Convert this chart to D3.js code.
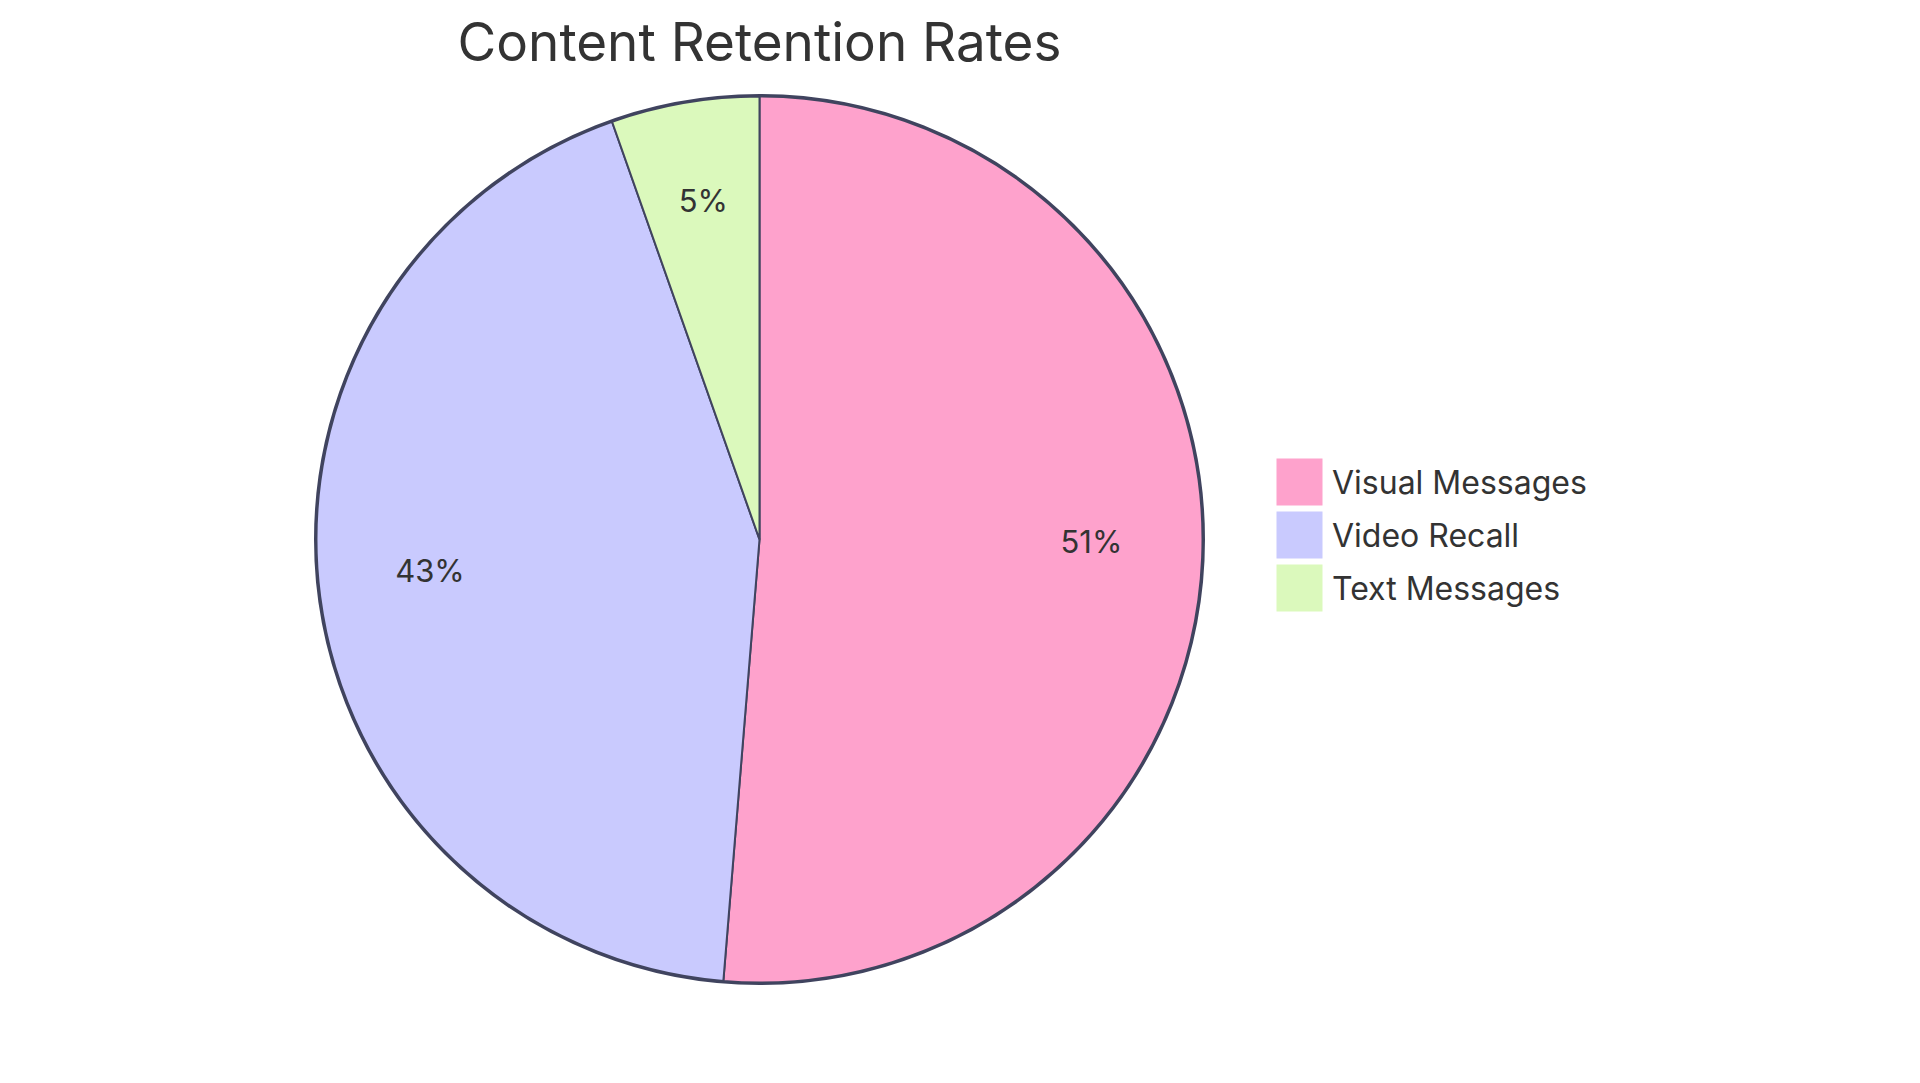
<!DOCTYPE html>
<html>
<head>
<meta charset="utf-8">
<script src="https://cdn.jsdelivr.net/npm/d3@7"></script>
<style>
  body { margin: 0; background: #fff; }
  svg { display: block; font-family: Inter, "Open Sans", sans-serif; }
</style>
</head>
<body>
<div id="chart"></div>
<script>
const title = "Content Retention Rates";
const categories = ["Visual Messages", "Video Recall", "Text Messages"];
const values = [51.3, 43.3, 5.4];
const colors = ["#fea2cc", "#c9cafe", "#dbf9bc"];

const dims = { width: 1920, height: 1083, cx: 759.5, cy: 539.5, r: 443 };

const svg = d3.select("#chart")
    .append("svg")
    .attr("width", dims.width)
    .attr("height", dims.height);

const total = d3.sum(values);
const data = categories.map((c, i) => ({ name: c, value: values[i] }));
const color = d3.scaleOrdinal().domain(categories).range(colors);

const pie = d3.pie().value(d => d.value).sort(null);
const arc = d3.arc().innerRadius(0).outerRadius(dims.r);
const labelArc = d3.arc().innerRadius(dims.r * 0.75).outerRadius(dims.r * 0.75);

const g = svg.append("g").attr("transform", `translate(${dims.cx},${dims.cy})`);

g.append("circle")
    .attr("r", dims.r + 1)
    .attr("fill", "none")
    .attr("stroke", "#40445f")
    .attr("stroke-width", 3);

g.selectAll("path")
    .data(pie(data))
    .enter()
    .append("path")
    .attr("d", arc)
    .attr("fill", d => color(d.data.name))
    .attr("stroke", "#40445f")
    .attr("stroke-width", 2);

g.selectAll("text")
    .data(pie(data))
    .enter()
    .append("text")
    .attr("transform", d => `translate(${labelArc.centroid(d)})`)
    .attr("text-anchor", "middle")
    .attr("font-size", "31px")
    .attr("fill", "#333")
    .text(d => Math.round(d.data.value / total * 100) + "%");

// title sits over the pie centre
svg.append("text")
    .attr("x", dims.cx)
    .attr("y", 61)
    .attr("text-anchor", "middle")
    .attr("font-size", "53px")
    .attr("fill", "#333")
    .text(title);

const legend = svg.append("g").attr("id", "legend");
const rowY = i => 459 + 53 * i;
legend.selectAll("rect")
    .data(categories)
    .enter()
    .append("rect")
    .attr("x", 1277)
    .attr("y", (_d, i) => rowY(i))
    .attr("width", 45)
    .attr("height", 46)
    .attr("fill", d => color(d))
    .attr("stroke", d => color(d));
legend.selectAll("text")
    .data(categories)
    .enter()
    .append("text")
    .attr("x", 1332)
    .attr("y", (_d, i) => rowY(i) + 35)
    .attr("font-size", "32px")
    .attr("fill", "#333")
    .text(d => d);
</script>
</body>
</html>
